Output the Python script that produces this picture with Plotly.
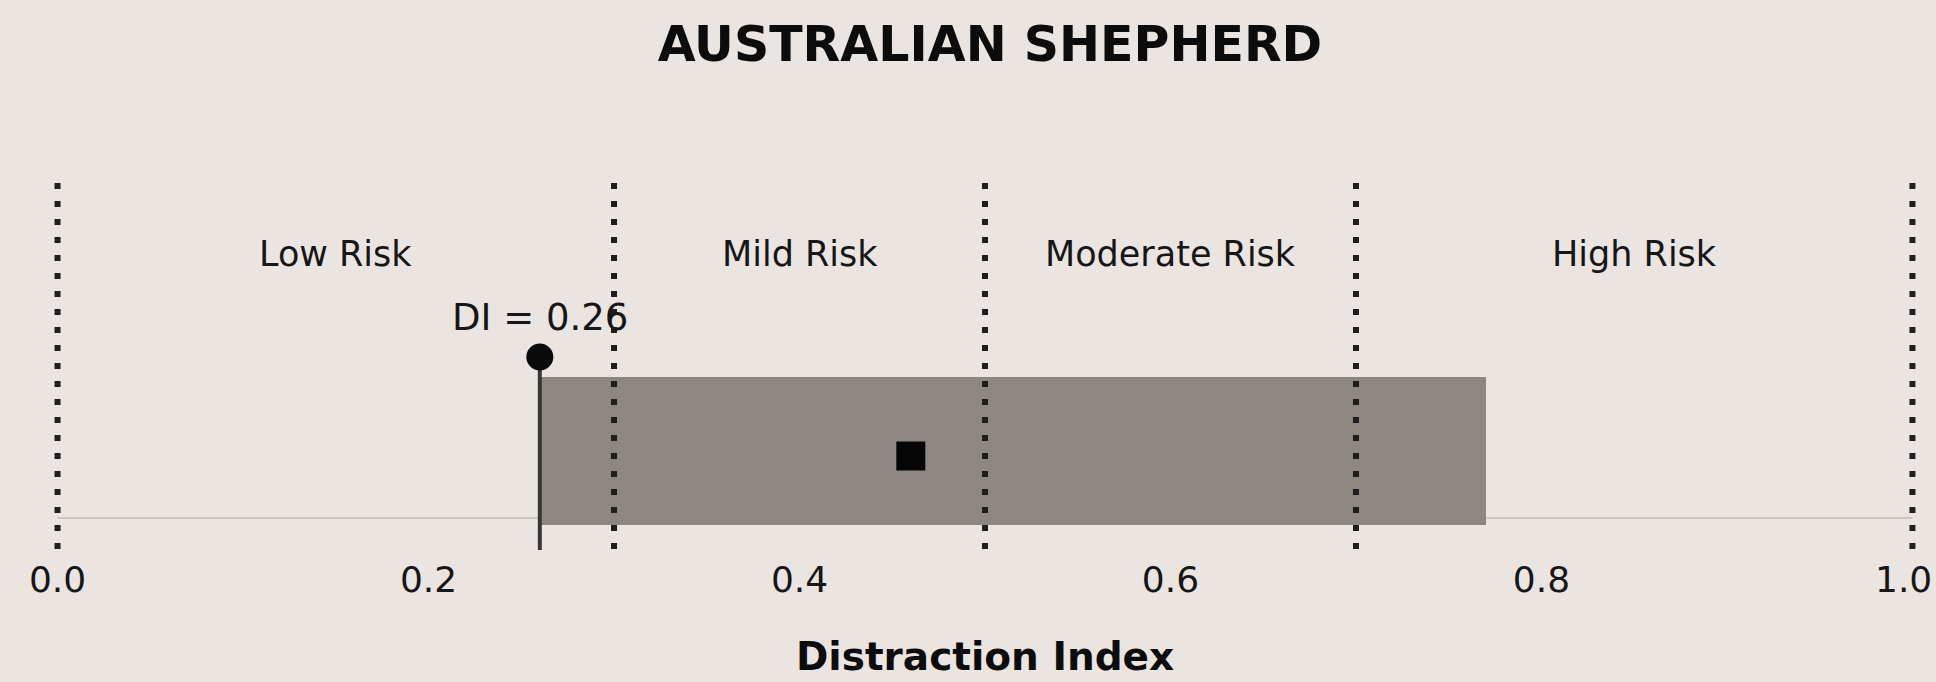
import plotly.graph_objects as go

# ---- data ----
title_text = "AUSTRALIAN SHEPHERD"
x_title = "Distraction Index"
zone_bounds = [0.0, 0.3, 0.5, 0.7, 1.0]
zone_labels = ["Low Risk", "Mild Risk", "Moderate Risk", "High Risk"]
di_value = 0.26
range_low = 0.26
range_high = 0.77
center_value = 0.46
tick_vals = [0.0, 0.2, 0.4, 0.6, 0.8, 1.0]
tick_text = ["0.0", "0.2", "0.4", "0.6", "0.8", "1.0"]

# ---- styling / layout constants ----
BG = "#ebe5e2"
BAR = "#8d8782"
INK = "#161616"
FONT = "DejaVu Sans"

Y_DOT_TOP, Y_DOT_BOT = 0.967, 0.0152
Y_BAR_C, BAR_W = 0.2633, 0.3747
Y_BASE = 0.0937
Y_LINE_BOT = 0.0127
Y_MARK = 0.5013
Y_SQ = 0.2506
Y_DI_TXT = 0.6025
Y_ZONE_TXT = 0.762

fig = go.Figure()

# faint baseline
fig.add_shape(type="line", xref="x", yref="y", x0=zone_bounds[0], x1=zone_bounds[-1],
              y0=Y_BASE, y1=Y_BASE, line=dict(color="#cbc5c1", width=2), layer="below")

# range bar
fig.add_trace(go.Bar(x=[range_high - range_low], base=[range_low], y=[Y_BAR_C],
                     width=[BAR_W], orientation="h", marker=dict(color=BAR, line=dict(width=0)),
                     showlegend=False, hoverinfo="skip"))

# dotted zone boundaries
for b in zone_bounds:
    fig.add_shape(type="line", xref="x", yref="y", x0=b, x1=b, y0=Y_DOT_BOT, y1=Y_DOT_TOP,
                  line=dict(color="#1e1e1e", width=6, dash="6px,12px"), layer="above")

# DI marker line + dot
fig.add_trace(go.Scatter(x=[di_value, di_value], y=[Y_LINE_BOT, Y_MARK], mode="lines",
                         line=dict(color="#3a3634", width=4), showlegend=False, hoverinfo="skip"))
fig.add_trace(go.Scatter(x=[di_value], y=[Y_MARK], mode="markers",
                         marker=dict(symbol="circle", size=27, color="#0a0a0a"),
                         showlegend=False, hoverinfo="skip"))
# center square
fig.add_trace(go.Scatter(x=[center_value], y=[Y_SQ], mode="markers",
                         marker=dict(symbol="square", size=29, color="#050505"),
                         showlegend=False, hoverinfo="skip"))

# DI text
fig.add_annotation(x=di_value, y=Y_DI_TXT, text=f"DI = {di_value:.2f}", showarrow=False,
                   font=dict(family=FONT, size=37, color=INK), xanchor="center", yanchor="middle")

# zone labels
for i, lab in enumerate(zone_labels):
    xm = (zone_bounds[i] + zone_bounds[i + 1]) / 2
    fig.add_annotation(x=xm, y=Y_ZONE_TXT, text=lab, showarrow=False,
                       font=dict(family=FONT, size=35, color=INK), xanchor="center", yanchor="middle")

# last tick label, kept inside the page edge
fig.add_annotation(x=tick_vals[-1], xref="x", y=-0.0608, yref="paper", text=tick_text[-1],
                   showarrow=False, xanchor="right", xshift=22, yanchor="middle",
                   font=dict(family=FONT, size=36, color=INK))

# axis title
fig.add_annotation(x=0.5, xref="x", y=-0.258, yref="paper", text=f"<b>{x_title}</b>",
                   showarrow=False, xanchor="center", yanchor="middle",
                   font=dict(family=FONT, size=39, color="#0c0c0c"))

fig.update_layout(
    width=1936, height=682,
    paper_bgcolor=BG, plot_bgcolor=BG,
    margin=dict(l=39, r=5, t=160, b=127, autoexpand=False),
    title=dict(text=f"<b>{title_text}</b>", x=990 / 1936, xanchor="center", xref="container",
               y=1 - 44 / 682, yref="container", yanchor="middle",
               font=dict(family=FONT, size=49, color="#0c0c0c")),
    xaxis=dict(range=[-0.01, 1.01], tickvals=tick_vals[:-1], ticktext=tick_text[:-1],
               showgrid=False, zeroline=False, showline=False, ticks="",
               automargin=False,
               tickfont=dict(family=FONT, size=36, color=INK)),
    yaxis=dict(range=[0, 1], visible=False, showgrid=False, zeroline=False, automargin=False),
    bargap=0,
)

fig.write_html("out.html", config={"displayModeBar": False},
               post_script="document.body.style.margin='0';document.body.style.background='#ebe5e2';document.body.style.overflow='hidden';")
